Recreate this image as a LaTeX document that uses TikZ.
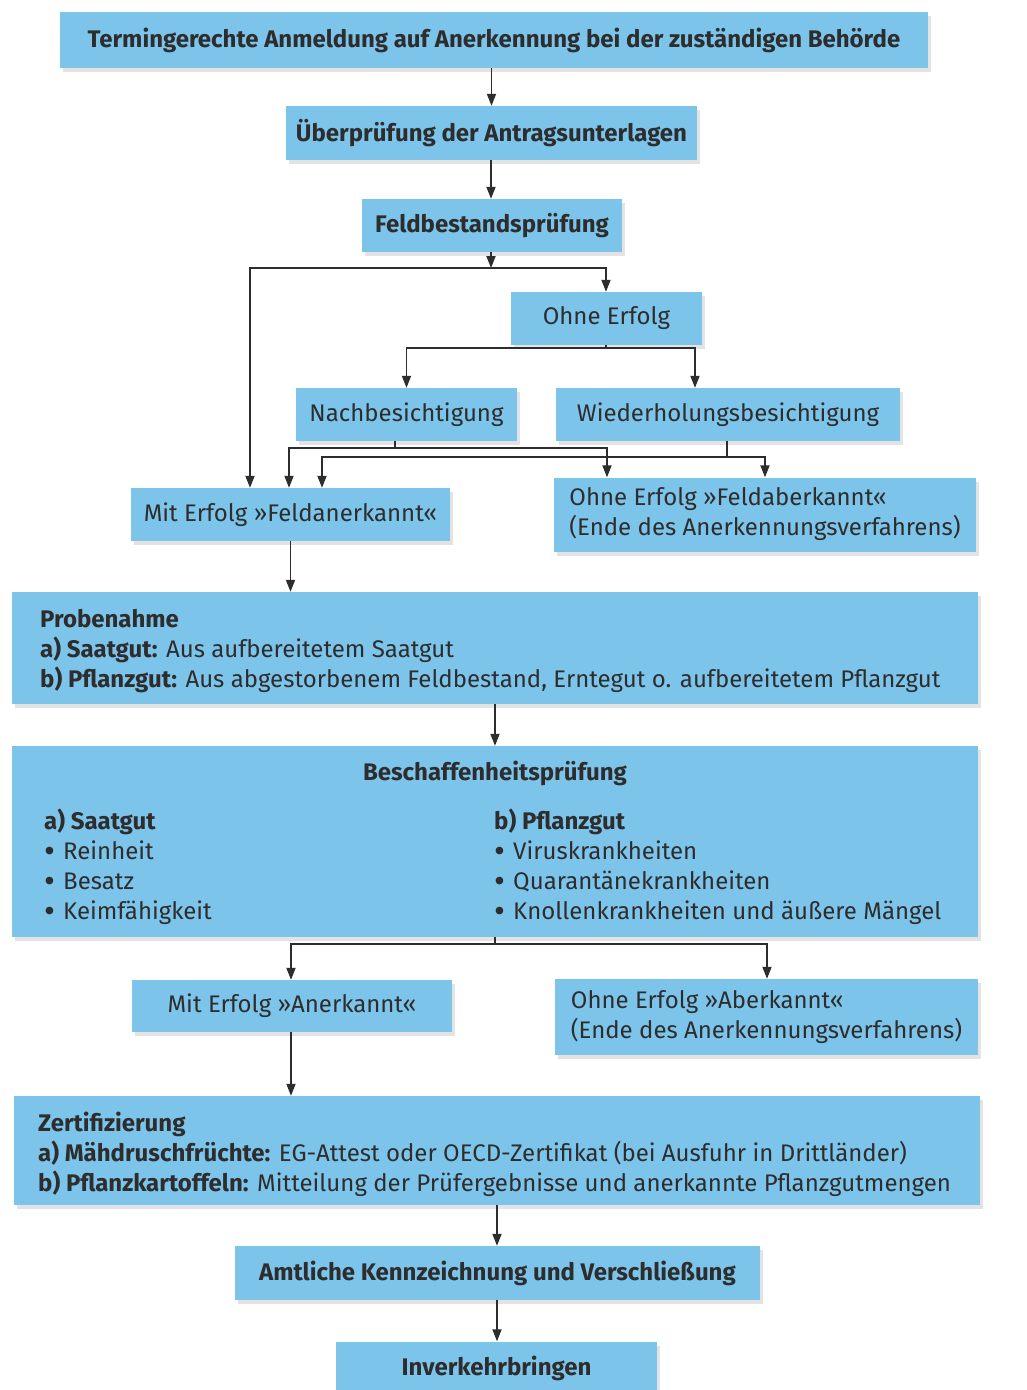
\documentclass[tikz,border=0pt]{standalone}
\usepackage{fontspec}
\setmainfont{Fira Sans}
\usetikzlibrary{arrows.meta,shadows}
\definecolor{boxblue}{RGB}{125,196,235}
\definecolor{ink}{RGB}{45,45,45}
\newcommand\blt{\makebox[19pt][l]{\smash{\raisebox{-0.13em}{\scalebox{1.4}{•}}}}}
\tikzset{
  box/.style={fill=boxblue, draw=none, inner sep=0pt, text=ink,
    drop shadow={shadow xshift=3pt, shadow yshift=-4pt, opacity=0.22}},
  ln/.style={draw=ink, line width=1.8pt},
  arr/.style={ln, -{Triangle[length=12pt,width=9pt]}},
  dbl/.style={ln, {Triangle[length=12pt,width=9pt]}-{Triangle[length=12pt,width=9pt]}},
  txt/.style={inner sep=0pt, text=ink, align=left}
}
\begin{document}
\begin{tikzpicture}[x=1pt, y=-1pt, font=\fontsize{24}{30}\selectfont]
\path[use as bounding box, fill=white] (0,0) rectangle (1026,1390);

% boxes
\node[box, minimum width=868pt, minimum height=56pt] (top) at (494,40)
  {\textbf{Termingerechte Anmeldung auf Anerkennung bei der zuständigen Behörde}};
\node[box, minimum width=411pt, minimum height=54pt] (ueber) at (491.5,133)
  {\textbf{Überprüfung der Antragsunterlagen}};
\node[box, minimum width=260pt, minimum height=53pt] (feld) at (492,225.5)
  {\textbf{Feldbestandsprüfung}};
\node[box, minimum width=191pt, minimum height=53pt] (ohne) at (606.5,318.5)
  {Ohne Erfolg};
\node[box, minimum width=221pt, minimum height=53pt] (nach) at (406.5,414.5)
  {Nachbesichtigung};
\node[box, minimum width=344pt, minimum height=53pt] (wied) at (728,414.5)
  {Wiederholungsbesichtigung};
\node[box, minimum width=319pt, minimum height=53pt] (mit1) at (290.5,514.5)
  {Mit Erfolg »Feldanerkannt«};
\node[box, minimum width=422pt, minimum height=74pt, align=left] (ohne1) at (765,514.5)
  {Ohne Erfolg »Feldaberkannt«\\(Ende des Anerkennungsverfahrens)};
\node[box, minimum width=966pt, minimum height=112pt] (probe) at (495,648) {};
\node[txt, anchor=west] (probeT) at (40,651)
  {\textbf{Probenahme}\\\textbf{a) Saatgut:} Aus aufbereitetem Saatgut\\\textbf{b) Pflanzgut:} Aus abgestorbenem Feldbestand, Erntegut o. aufbereitetem Pflanzgut};
\node[box, minimum width=966pt, minimum height=191pt] (besch) at (495,841.5) {};
\node[txt] (beschT) at (495,773) {\textbf{Beschaffenheitsprüfung}};
\node[txt, anchor=north west] (beschA) at (44,809)
  {\textbf{a) Saatgut}\\\blt Reinheit\\\blt Besatz\\\blt Keimfähigkeit};
\node[txt, anchor=north west] (beschB) at (494,809)
  {\textbf{b) Pflanzgut}\\\blt Viruskrankheiten\\\blt Quarantänekrankheiten\\\blt Knollenkrankheiten und äußere Mängel};
\node[box, minimum width=320pt, minimum height=52pt] (mit2) at (292,1006)
  {Mit Erfolg »Anerkannt«};
\node[box, minimum width=423pt, minimum height=76pt, align=left] (ohne2) at (766.5,1017)
  {Ohne Erfolg »Aberkannt«\\(Ende des Anerkennungsverfahrens)};
\node[box, minimum width=966pt, minimum height=109pt] (zert) at (497,1150.5) {};
\node[txt, anchor=west] (zertT) at (38,1154)
  {\textbf{Zertifizierung}\\\textbf{a) Mähdruschfrüchte:} EG-Attest oder OECD-Zertifikat (bei Ausfuhr in Drittländer)\\\textbf{b) Pflanzkartoffeln:} Mitteilung der Prüfergebnisse und anerkannte Pflanzgutmengen};
\node[box, minimum width=525pt, minimum height=54pt] (amt) at (497.5,1273)
  {\textbf{Amtliche Kennzeichnung und Verschließung}};
\node[box, minimum width=321pt, minimum height=53pt] (inv) at (496.5,1368)
  {\textbf{Inverkehrbringen}};

% connectors
\draw[arr] (top.south -| ueber.north) -- (ueber.north);
\draw[arr] (ueber.south -| 491,0) -- (feld.north -| 491,0);
\draw[arr] (feld.south -| 491,0) -- (491,268);
\draw[dbl] (mit1.north -| 250,0) |- (606,268) -- (ohne.north -| 606,0);
\draw[ln] (ohne.south -| 606,0) -- (606,348);
\draw[dbl] (nach.north) |- (695,348) -- (wied.north -| 695,0);
\draw[ln] (nach.south -| 395,0) -- (395,448);
\draw[dbl] (mit1.north -| 289,0) |- (607,448) -- (ohne1.north -| 607,0);
\draw[ln] (wied.south -| 727,0) -- (727,457);
\draw[dbl] (mit1.north -| 322,0) |- (765,457) -- (ohne1.north -| 765,0);
\draw[arr] (mit1.south) -- (probe.north -| mit1.south);
\draw[arr] (probe.south) -- (besch.north);
\draw[ln] (besch.south) -- (495,944);
\draw[dbl] (mit2.north -| 291,0) |- (767,944) -- (ohne2.north -| 767,0);
\draw[arr] (mit2.south -| 291,0) -- (zert.north -| 291,0);
\draw[arr] (zert.south -| 497,0) -- (amt.north -| 497,0);
\draw[arr] (amt.south -| 497,0) -- (inv.north -| 497,0);
\end{tikzpicture}
\end{document}
